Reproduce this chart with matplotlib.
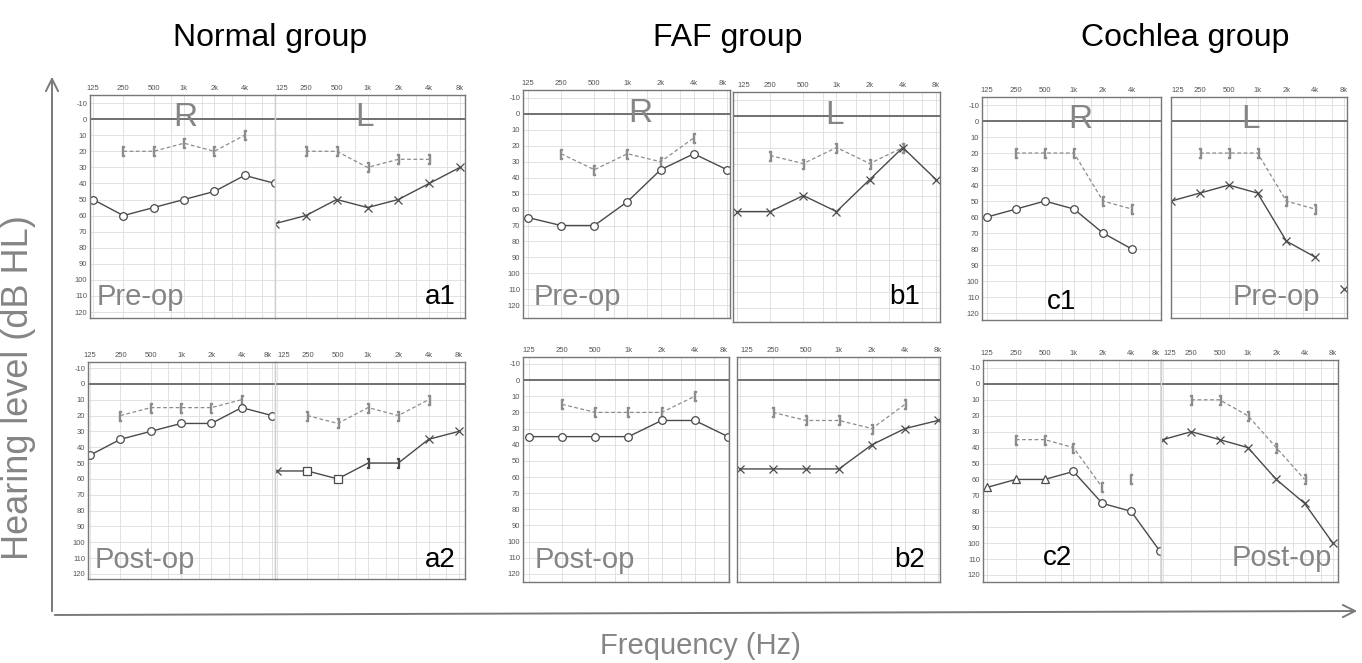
import numpy as np
import matplotlib.pyplot as plt
from matplotlib.patches import FancyArrowPatch
from matplotlib.ticker import NullFormatter

plt.rcParams['font.family'] = ['Liberation Sans', 'DejaVu Sans']
plt.rcParams['axes.unicode_minus'] = False

W, H = 1362, 663
nan = np.nan

# ----------- DATA -----------
freqs = [125, 250, 500, 1000, 2000, 4000, 8000]
freq_labels = ['125', '250', '500', '1k', '2k', '4k', '8k']
db_ticks = list(range(-10, 130, 10))
group_names = ['Normal group', 'FAF group', 'Cochlea group']

# normal group, pre-op (a1) / post-op (a2)
a1_r_air = [50, 60, 55, 50, 45, 35, 40]
a1_r_bone = [nan, 20, 20, 15, 20, 10, nan]
a1_l_air = [65, 60, 50, 55, 50, 40, 30]
a1_l_bone = [nan, 20, 20, 30, 25, 25, nan]

a2_r_air = [45, 35, 30, 25, 25, 15, 20]
a2_r_bone = [nan, 20, 15, 15, 15, 10, nan]
a2_l_air = [55, 55, 60, 50, 50, 35, 30]
a2_l_bone = [nan, 20, 25, 15, 20, 10, nan]

# FAF group
b1_r_air = [65, 70, 70, 55, 35, 25, 35]
b1_r_bone = [nan, 25, 35, 25, 30, 15, nan]
b1_l_air = [60, 60, 50, 60, 40, 20, 40]
b1_l_bone = [nan, 25, 30, 20, 30, 20, nan]

b2_r_air = [35, 35, 35, 35, 25, 25, 35]
b2_r_bone = [nan, 15, 20, 20, 20, 10, nan]
b2_l_air = [55, 55, 55, 55, 40, 30, 25]
b2_l_bone = [nan, 20, 25, 25, 30, 15, nan]

# cochlea group
c1_r_air = [60, 55, 50, 55, 70, 80, nan]
c1_r_bone = [nan, 20, 20, 20, 50, 55, nan]
c1_l_air = [50, 45, 40, 45, 75, 85, nan]
c1_l_air_lone = [nan, nan, nan, nan, nan, nan, 105]
c1_l_bone = [nan, 20, 20, 20, 50, 55, nan]

c2_r_air = [65, 60, 60, 55, 75, 80, 105]
c2_r_bone = [nan, 35, 35, 40, 65, nan, nan]
c2_r_bone_lone = [nan, nan, nan, nan, nan, 60, nan]
c2_l_air = [35, 30, 35, 40, 60, 75, 100]
c2_l_bone = [nan, 10, 10, 20, 40, 60, nan]


fig = plt.figure(figsize=(W / 100, H / 100), dpi=100)

AIR = '#4a4a4a'
BONE = '#8c8c8c'


def add_box(l, t, r, b):
    return fig.add_axes([l / W, 1 - b / H, (r - l) / W, (b - t) / H])


def audiogram(box, xoct, ylim, side, air, bone, extra_air=None, extra_bone=None,
              air_marks=None, joined=False, hide_8k=False):
    ax = add_box(*box)
    ax.set_xscale('log', base=2)
    ax.set_xlim(125 * 2 ** xoct[0], 125 * 2 ** xoct[1])
    ax.set_ylim(*ylim)
    labels = list(freq_labels)
    if hide_8k:
        labels[-1] = ''
    ax.set_xticks(freqs)
    ax.set_xticklabels(labels)
    ax.set_xticks([750, 1500, 3000, 6000], minor=True)
    ax.xaxis.set_minor_formatter(NullFormatter())
    ax.set_yticks(db_ticks)
    ax.xaxis.tick_top()
    ax.tick_params(axis='both', which='both', length=0, labelsize=5.5,
                   colors='#555555', pad=2)
    tl = ax.get_xticklabels()
    if side == 'R':
        tl[-1].set_ha('right')
    else:
        tl[0].set_ha('left')
        ax.set_yticklabels([])
    ax.grid(True, which='both', color='#dddddd', lw=0.6)
    ax.axhline(0, color='#666666', lw=1.3)
    for sp in ax.spines.values():
        sp.set_color('#777777')
        sp.set_linewidth(1.0)
    if joined:
        ax.spines['right' if side == 'R' else 'left'].set_color('#d0d0d0')

    bmark = '$[$' if side == 'R' else '$]$'
    amark = 'o' if side == 'R' else 'x'
    ax.plot(freqs, bone, color=BONE, ls=(0, (3, 2)), lw=0.9,
            marker=bmark, ms=7.5, mec=BONE)
    if air_marks is None:
        ax.plot(freqs, air, color=AIR, lw=1.0, marker=amark, ms=5.5,
                mfc='white', mec=AIR, mew=0.9)
    else:
        ax.plot(freqs, air, color=AIR, lw=1.0)
        for f, v, m in zip(freqs, air, air_marks):
            ax.plot([f], [v], marker=m, ms=5.5 if len(m) == 1 else 7.5,
                    mfc='white', mec=AIR, mew=0.9, color=AIR)
    if extra_air is not None:
        ax.plot(freqs, extra_air, ls='none', marker=amark, ms=5.5,
                mfc='white', mec=AIR, mew=0.9)
    if extra_bone is not None:
        ax.plot(freqs, extra_bone, ls='none', marker=bmark, ms=7.5, mec=BONE, color=BONE)
    return ax


# normal group
audiogram((90, 95, 275, 318), (-0.1, 6.0), (123.7, -15), 'R', a1_r_air, a1_r_bone,
          joined=True, hide_8k=True)
audiogram((275, 95, 465, 318), (0, 6.16), (123.7, -15), 'L', a1_l_air, a1_l_bone, joined=True)
audiogram((88, 362, 275, 579), (-0.07, 6.1), (123.2, -13.8), 'R', a2_r_air, a2_r_bone,
          joined=True)
audiogram((275, 362, 465, 579), (-0.07, 6.2), (123.2, -13.8), 'L', a2_l_air, a2_l_bone,
          air_marks=['x', 's', 's', '$]$', '$]$', 'x', 'x'], joined=True)

# FAF group
audiogram((523, 90, 730, 318), (-0.15, 6.09), (128, -15), 'R', b1_r_air, b1_r_bone)
audiogram((733, 92, 940, 322), (-0.12, 6.12), (129, -14.7), 'L', b1_l_air, b1_l_bone)
audiogram((523, 357, 729, 582), (-0.18, 6.03), (125, -14.3), 'R', b2_r_air, b2_r_bone)
audiogram((737, 357, 940, 582), (-0.09, 6.06), (125, -14.3), 'L', b2_l_air, b2_l_bone)

# cochlea group
audiogram((982, 97, 1161, 320), (-0.17, 5.92), (124.3, -15), 'R', c1_r_air, c1_r_bone,
          hide_8k=True)
audiogram((1171, 97, 1347, 318), (0, 6.1), (123, -15), 'L', c1_l_air, c1_l_bone,
          extra_air=c1_l_air_lone)
audiogram((983, 360, 1161, 582), (-0.14, 6.04), (124.4, -15), 'R', c2_r_air, c2_r_bone,
          extra_bone=c2_r_bone_lone, air_marks=['^', '^', '^', 'o', 'o', 'o', 'o'],
          joined=True)
audiogram((1161, 360, 1338, 582), (-0.07, 6.18), (124.4, -15), 'L', c2_l_air, c2_l_bone,
          joined=True)


def ftext(x, y, s, **kw):
    fig.text(x / W, 1 - y / H, s, ha='center', va='center', **kw)


GRAY = '#858585'
# group titles
for x, name in zip([270, 728, 1185], group_names):
    ftext(x, 38, name, fontsize=23, color='black')

# ear letters
for x, y, s in [(185, 117, 'R'), (365, 117, 'L'), (640, 114, 'R'), (835, 115, 'L'),
                (1080, 119, 'R'), (1250, 119, 'L')]:
    ftext(x, y, s, fontsize=24, color=GRAY)

# pre/post-op labels and panel ids
for x, y, s in [(140, 297, 'Pre-op'), (577, 297, 'Pre-op'), (1276, 297, 'Pre-op'),
                (145, 560, 'Post-op'), (585, 560, 'Post-op'), (1282, 558, 'Post-op')]:
    ftext(x, y, s, fontsize=21, color=GRAY)
for x, y, s in [(440, 297, 'a1'), (905, 297, 'b1'), (1062, 302, 'c1'),
                (440, 560, 'a2'), (910, 560, 'b2'), (1058, 558, 'c2')]:
    ftext(x, y, s, fontsize=20, color='black')

# axis titles
ftext(19, 388, 'Hearing level (dB HL)', fontsize=26, color=GRAY, rotation=90)
ftext(700, 646, 'Frequency (Hz)', fontsize=21, color=GRAY)

# axis arrows
for p0, p1 in [((52, 614), (52, 74)), ((52, 615), (1360, 611))]:
    fig.add_artist(FancyArrowPatch((p0[0] / W, 1 - p0[1] / H), (p1[0] / W, 1 - p1[1] / H),
                                   transform=fig.transFigure, arrowstyle='->',
                                   mutation_scale=22, color='#7a7a7a', lw=1.4))

fig.savefig('out.png', dpi=100)
